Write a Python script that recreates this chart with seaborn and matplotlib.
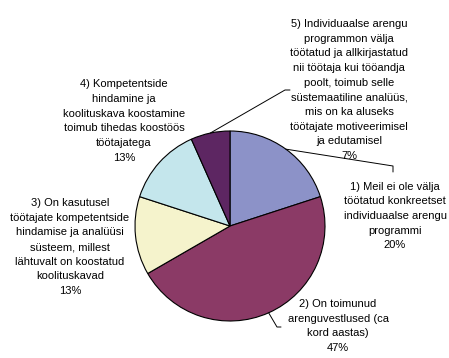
import numpy as np
import seaborn as sns
import matplotlib.pyplot as plt

sns.set_theme(style="white")
plt.rcParams["font.family"] = ["Liberation Sans", "DejaVu Sans"]

# answer categories (15 respondents)
labels = [
    "1) Meil ei ole välja\ntöötatud konkreetset\nindividuaalse arengu\nprogrammi",
    "2) On toimunud\narenguvestlused (ca\nkord aastas)",
    "3) On kasutusel\ntöötajate kompetentside\nhindamise ja analüüsi\nsüsteem, millest\nlähtuvalt on koostatud\nkoolituskavad",
    "4) Kompetentside\nhindamine ja\nkoolituskava koostamine\ntoimub tihedas koostöös\ntöötajatega",
    "5) Individuaalse arengu\nprogrammon välja\ntöötatud ja allkirjastatud\nnii töötaja kui tööandja\npoolt, toimub selle\nsüstemaatiline analüüs,\nmis on ka aluseks\ntöötajate motiveerimisel\nja edutamisel",
]
counts = [3, 7, 2, 2, 1]
colors = ["#8C92C8", "#8B3A66", "#F5F3CC", "#C4E6EC", "#5D2662"]

# layout (pixels, y measured from top)
W, H = 449, 358
cx, cy, r = 230, 226, 95
label_pos = [(395, 216), (338, 326), (70, 247), (124, 121), (349, 90)]
# leader lines: elbow and end points for labels that have one
leaders = {0: [(393, 166), (393, 172)], 1: [(277, 327), (281, 327)], 4: [(285, 90), (290, 90)]}

fig = plt.figure(figsize=(W / 100, H / 100), dpi=100)
ax = fig.add_axes([0, 0, 1, 1])
wedges, _ = ax.pie(counts, colors=colors, startangle=90, counterclock=False,
                   center=(cx, H - cy), radius=r,
                   wedgeprops=dict(edgecolor="black", linewidth=0.8))

total = sum(counts)
for i, (lab, n) in enumerate(zip(labels, counts)):
    pct = 100 * n / total
    x, y = label_pos[i]
    ax.text(x, H - y, f"{lab}\n{pct:.0f}%", ha="center", va="center",
            fontsize=8.0, linespacing=1.58, color="black")
    if i in leaders:
        w = wedges[i]
        mid = np.deg2rad((w.theta1 + w.theta2) / 2)
        px, py = cx + r * np.cos(mid), H - cy + r * np.sin(mid)
        xs = [px] + [p[0] for p in leaders[i]]
        ys = [py] + [H - p[1] for p in leaders[i]]
        ax.plot(xs, ys, color="black", linewidth=0.7)

ax.set_xlim(0, W)
ax.set_ylim(0, H)
ax.set_aspect("equal")
ax.axis("off")
fig.savefig("out.png", dpi=100, facecolor="white")
